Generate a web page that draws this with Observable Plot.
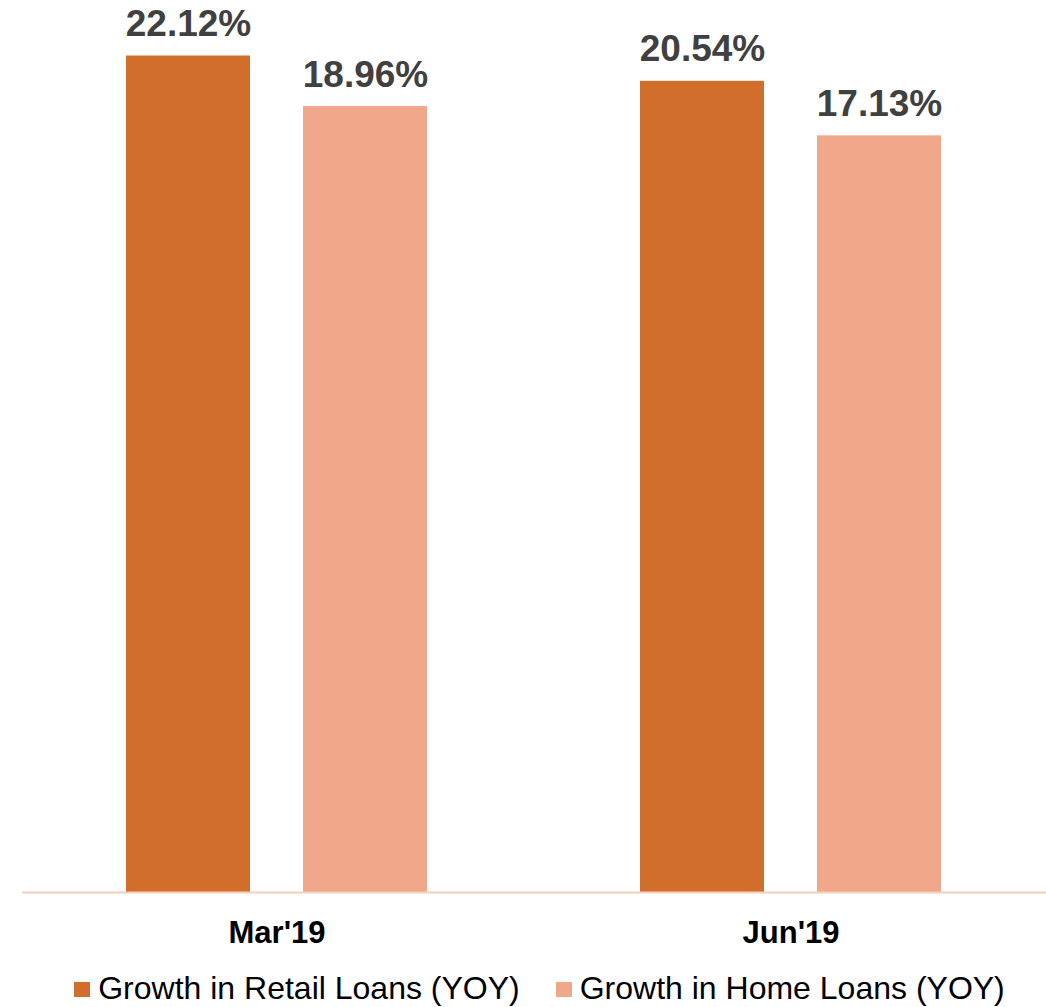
<!DOCTYPE html>
<html>
<head>
<meta charset="utf-8">
<script src="https://cdn.jsdelivr.net/npm/d3@7"></script>
<script src="https://cdn.jsdelivr.net/npm/@observablehq/plot@0.6"></script>
<style>
  html, body { margin: 0; padding: 0; background: #fff; }
  body { width: 1046px; font-family: "Liberation Sans", Arial, sans-serif; }
  #legend { display: flex; justify-content: center; align-items: center; height: 36px;
            padding-left: 33px; font-size: 32px; color: #000; white-space: nowrap; }
  .item { display: flex; align-items: center; margin: 0 18px; }
  .sw { width: 16px; height: 15px; margin-right: 8px; margin-top: 2px; }
</style>
</head>
<body>
<div id="chart"></div>
<div id="legend"></div>
<script>
const periods = ["Mar'19", "Jun'19"];
const seriesNames = ["Growth in Retail Loans (YOY)", "Growth in Home Loans (YOY)"];
const retailGrowth = [22.12, 20.54];
const homeGrowth = [18.96, 17.13];
const colors = ["#D26E2B", "#F1A78A"];
const axisMin = -30.16;
const axisMax = 25.59;

const retail = periods.map((p, i) => ({period: p, value: retailGrowth[i]}));
const home = periods.map((p, i) => ({period: p, value: homeGrowth[i]}));
const fmt = v => v.toFixed(2) + "%";

const chart = Plot.plot({
  width: 1046,
  height: 970,
  marginLeft: 22,
  marginRight: 0,
  marginTop: 0,
  marginBottom: 78,
  style: {fontFamily: "'Liberation Sans', Arial, sans-serif", background: "#fff"},
  x: {domain: periods, paddingInner: 0.4136, paddingOuter: 0.2029, axis: null},
  y: {domain: [axisMin, axisMax], axis: null},
  marks: [
    Plot.barY(retail, {x: "period", y1: axisMin, y2: "value", fill: colors[0], insetRight: 177}),
    Plot.barY(home, {x: "period", y1: axisMin, y2: "value", fill: colors[1], insetLeft: 177}),
    Plot.ruleY([axisMin], {stroke: "#F8CDBB", strokeWidth: 2}),
    Plot.text(retail, {x: "period", y: "value", text: d => fmt(d.value), dx: -88.5, dy: -20,
      lineAnchor: "bottom", fontSize: 37, fontWeight: "bold", fill: "#404040"}),
    Plot.text(home, {x: "period", y: "value", text: d => fmt(d.value), dx: 88.5, dy: -20,
      lineAnchor: "bottom", fontSize: 37, fontWeight: "bold", fill: "#404040"}),
    Plot.axisX({anchor: "bottom", tickSize: 0, tickPadding: 28, fontSize: 31,
      fontWeight: "bold", fill: "#000", label: null})
  ]
});
document.getElementById("chart").appendChild(chart);

const legend = document.getElementById("legend");
seriesNames.forEach((name, i) => {
  const item = document.createElement("div");
  item.className = "item";
  const sw = document.createElement("span");
  sw.className = "sw";
  sw.style.background = colors[i];
  const t = document.createElement("span");
  t.textContent = name;
  item.appendChild(sw);
  item.appendChild(t);
  legend.appendChild(item);
});
</script>
</body>
</html>
